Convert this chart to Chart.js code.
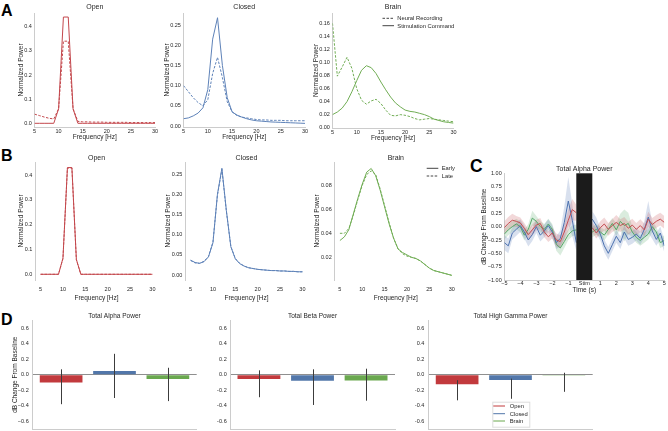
<!DOCTYPE html>
<html><head><meta charset="utf-8">
<script src="https://cdn.jsdelivr.net/npm/chart.js@4.4.1/dist/chart.umd.min.js"></script>
<style>
html,body{margin:0;padding:0;background:#fff;}
#wrap{position:relative;width:668px;height:431px;overflow:hidden;background:#fff;font-family:"Liberation Sans",Arial,sans-serif;}
#wrap canvas{position:absolute;}
.pl{position:absolute;font-weight:bold;line-height:1;color:#000;}
</style></head><body>
<div id="wrap">
<div class="pl" style="left:1px;top:3px;font-size:16px">A</div>
<div class="pl" style="left:1px;top:148px;font-size:16px">B</div>
<div class="pl" style="left:470px;top:158px;font-size:17.5px">C</div>
<div class="pl" style="left:1px;top:312px;font-size:16px">D</div>
</div>
<script>
// ---------------- DATA ----------------
const freq = [5,6,7,8,9,10,11,12,13,14,15,16,17,18,19,20,21,22,23,24,25,26,27,28,29,30];
const freqTicks = [5,10,15,20,25,30];

// Panel A: Neural Recording (dashed) vs Stimulation Command (solid)
const aOpenStim   = [0,0,0,0,0,0.06,0.44,0.44,0.06,0,0,0,0,0,0,0,0,0,0,0,0,0,0,0,0,0];
const aOpenRec    = [0.038,0.032,0.026,0.021,0.018,0.06,0.34,0.34,0.06,0.008,0.006,0.006,0.005,0.005,0.005,0.004,0.004,0.004,0.004,0.004,0.003,0.003,0.003,0.003,0.003,0.003];
const aClosedStim = [0.018,0.02,0.025,0.032,0.045,0.09,0.215,0.268,0.15,0.07,0.035,0.027,0.022,0.018,0.015,0.013,0.012,0.011,0.010,0.0095,0.009,0.0085,0.008,0.0075,0.007,0.0065];
const aClosedRec  = [0.10,0.085,0.07,0.058,0.05,0.065,0.13,0.17,0.12,0.06,0.035,0.026,0.022,0.02,0.018,0.016,0.015,0.015,0.014,0.014,0.014,0.013,0.013,0.013,0.013,0.013];
const aBrainStim  = [0.02,0.024,0.03,0.04,0.055,0.072,0.088,0.095,0.092,0.083,0.07,0.058,0.047,0.038,0.032,0.027,0.025,0.024,0.022,0.02,0.017,0.013,0.011,0.009,0.008,0.007];
const aBrainRec   = [0.16,0.079,0.093,0.108,0.091,0.06,0.042,0.036,0.041,0.0435,0.037,0.027,0.019,0.018,0.02,0.019,0.017,0.014,0.012,0.013,0.014,0.013,0.012,0.011,0.010,0.009];

// Panel B: Early (solid) vs Late (dashed)
const bOpenEarly   = [0,0,0,0,0,0.065,0.43,0.43,0.06,0,0,0,0,0,0,0,0,0,0,0,0,0,0,0,0,0];
const bOpenLate    = [0,0,0,0,0,0.063,0.428,0.428,0.058,0,0,0,0,0,0,0,0,0,0,0,0,0,0,0,0,0];
const bClosedEarly = [0.037,0.031,0.029,0.033,0.045,0.08,0.20,0.265,0.16,0.07,0.04,0.028,0.022,0.018,0.016,0.014,0.013,0.012,0.011,0.011,0.010,0.010,0.009,0.009,0.008,0.008];
const bClosedLate  = [0.036,0.030,0.029,0.034,0.046,0.082,0.198,0.262,0.158,0.071,0.041,0.029,0.022,0.018,0.016,0.014,0.013,0.012,0.011,0.011,0.010,0.010,0.009,0.009,0.008,0.008];
const bBrainEarly  = [0.034,0.037,0.043,0.056,0.069,0.081,0.091,0.094,0.088,0.076,0.062,0.048,0.036,0.027,0.024,0.022,0.020,0.019,0.017,0.014,0.011,0.009,0.008,0.007,0.006,0.005];
const bBrainLate   = [0.040,0.040,0.044,0.055,0.068,0.080,0.089,0.092,0.089,0.077,0.063,0.049,0.036,0.027,0.023,0.021,0.020,0.019,0.017,0.014,0.011,0.009,0.008,0.007,0.006,0.005];

// Panel C: time course of total alpha power (dB change), mean and band half-width
const tPre  = [-5,-4.75,-4.5,-4.25,-4,-3.75,-3.5,-3.25,-3,-2.75,-2.5,-2.25,-2,-1.75,-1.5,-1.25,-1,-0.75,-0.5];
const tPost = [0.5,0.75,1,1.25,1.5,1.75,2,2.25,2.5,2.75,3,3.25,3.5,3.75,4,4.25,4.5,4.75,5];
const cRedPre    = [-0.02,0.06,0.12,0.10,0.07,-0.03,-0.15,-0.06,0.03,0.06,-0.10,-0.19,-0.12,-0.25,-0.28,-0.10,0.12,0.32,0.26];
const cRedPost   = [-0.02,-0.12,-0.02,0.05,-0.05,0.02,0.08,0.02,0.06,-0.03,0.03,-0.05,0.02,-0.06,0.14,0.04,0.10,0.14,0.08];
const cBluePre   = [-0.30,-0.36,-0.12,-0.05,0.02,-0.10,-0.25,-0.15,0.0,-0.16,-0.08,0.02,-0.10,-0.30,-0.22,0.08,0.48,0.12,-0.30];
const cBluePost  = [0.14,0.02,-0.14,-0.36,-0.50,-0.34,-0.18,-0.30,-0.10,-0.24,-0.20,-0.14,-0.22,-0.05,0.18,-0.08,-0.24,-0.12,-0.36];
const cGreenPre  = [-0.14,-0.06,0.0,0.05,0.0,-0.16,-0.05,0.16,0.10,0.0,-0.05,0.05,-0.05,-0.33,-0.40,-0.28,-0.15,-0.08,-0.06];
const cGreenPost = [-0.10,-0.05,-0.10,-0.16,-0.05,0.06,-0.06,0.10,0.02,0.06,-0.10,-0.20,-0.26,-0.20,-0.14,0.00,-0.10,-0.30,-0.26];
const cRedHWPre    = [0.12,0.12,0.12,0.10,0.10,0.10,0.10,0.10,0.10,0.10,0.10,0.10,0.10,0.12,0.12,0.15,0.20,0.20,0.15];
const cRedHWPost   = [0.10,0.10,0.12,0.12,0.12,0.12,0.14,0.12,0.12,0.12,0.12,0.12,0.12,0.12,0.14,0.12,0.12,0.12,0.12];
const cBlueHWPre   = [0.14,0.14,0.12,0.12,0.12,0.12,0.12,0.12,0.12,0.12,0.12,0.12,0.12,0.12,0.15,0.30,0.45,0.30,0.15];
const cBlueHWPost  = [0.15,0.15,0.12,0.12,0.12,0.12,0.12,0.12,0.12,0.12,0.12,0.12,0.12,0.15,0.30,0.15,0.12,0.12,0.12];
const cGreenHWPre  = [0.10,0.10,0.10,0.10,0.10,0.10,0.10,0.14,0.10,0.10,0.10,0.10,0.10,0.12,0.14,0.12,0.10,0.10,0.10];
const cGreenHWPost = [0.10,0.10,0.10,0.10,0.10,0.10,0.12,0.14,0.30,0.20,0.10,0.10,0.10,0.10,0.10,0.10,0.10,0.10,0.10];
const cTimeTicks = [-5,-4,-3,-2,-1,0,1,2,3,4,5];
const cYTicks = [-1,-0.75,-0.5,-0.25,0,0.25,0.5,0.75,1];

// Panel D: mean dB change with error bars (Open, Closed, Brain)
const dGroups = ['Open','Closed','Brain'];
const dTitles = ['Total Alpha Power','Total Beta Power','Total High Gamma Power'];
const dAlpha   = [-0.10, 0.048, -0.055];
const dAlphaLo = [-0.38, -0.30, -0.34];
const dAlphaHi = [0.07, 0.27, 0.09];
const dBeta    = [-0.055, -0.077, -0.075];
const dBetaLo  = [-0.29, -0.39, -0.335];
const dBetaHi  = [0.057, 0.07, 0.078];
const dGamma   = [-0.124, -0.069, -0.01];
const dGammaLo = [-0.33, -0.31, -0.22];
const dGammaHi = [-0.07, -0.05, 0.026];
const dYTicks = [-0.6,-0.4,-0.2,0,0.2,0.4,0.6];

// ---------------- STYLE ----------------
const FONT = '"Liberation Sans", Arial, sans-serif';
const TXT = '#262626', SPINE = '#cccccc';
const RED = '#c3474c', BLUE = '#5e82b8', GREEN = '#71ad55';
const C_RED = '#c44e52', C_BLUE = '#4c72b0', C_GREEN = '#55a868';
const BAR_RED = '#c23a3d', BAR_BLUE = '#5277aa', BAR_GREEN = '#6aa84f';
Chart.defaults.font.family = FONT;
Chart.defaults.color = TXT;
const wrap = document.getElementById('wrap');

const fmt = d => v => { if (Math.abs(v) < 1e-9) v = 0; return v.toFixed(d).replace('-', '\u2212'); };
const fixedTicks = list => axis => { axis.ticks = list.map(v => ({value: v})); };
const fitW = w => s => { s.width = w; s.paddingTop = 0; s.paddingBottom = 0; };
const fitH = h => s => { s.height = h; s.paddingLeft = 0; s.paddingRight = 0; };

// decoration plugin: titles, legends, stim block, error bars
const deco = {
  id: 'deco',
  afterDatasetsDraw(chart, args, o) {
    const ctx = chart.ctx, ca = chart.chartArea;
    ctx.save();
    if (o.stim) {
      const xs = chart.scales.x;
      const x1 = xs.getPixelForValue(o.stim[0]), x2 = xs.getPixelForValue(o.stim[1]);
      ctx.fillStyle = '#1b1b1b';
      ctx.fillRect(x1, ca.top, x2 - x1, ca.bottom - ca.top);
    }
    if (o.errLo) {
      const xs = chart.scales.x, ys = chart.scales.y;
      ctx.strokeStyle = '#3c3c3c'; ctx.lineWidth = 1;
      o.errLo.forEach((lo, i) => {
        const x = Math.round(xs.getPixelForValue(i)) + 0.5;
        ctx.beginPath();
        ctx.moveTo(x, ys.getPixelForValue(o.errHi[i]));
        ctx.lineTo(x, ys.getPixelForValue(lo));
        ctx.stroke();
      });
    }
    ctx.restore();
  },
  afterDraw(chart, args, o) {
    const ctx = chart.ctx, ca = chart.chartArea;
    ctx.save();
    if (o.title) {
      ctx.font = (o.titleSize || 7) + 'px ' + FONT;
      ctx.fillStyle = TXT; ctx.textAlign = 'center'; ctx.textBaseline = 'middle';
      ctx.fillText(o.title, (ca.left + ca.right) / 2, ca.top - o.titleDy);
    }
    if (o.legend) {
      const L = o.legend, ox = o.ox, oy = o.oy;
      if (L.box) {
        ctx.fillStyle = '#fff'; ctx.strokeStyle = '#dddddd'; ctx.lineWidth = 1;
        ctx.fillRect(L.box[0] - ox, L.box[1] - oy, L.box[2], L.box[3]);
        ctx.strokeRect(L.box[0] - ox + 0.5, L.box[1] - oy + 0.5, L.box[2], L.box[3]);
      }
      ctx.font = (L.size || 5.8) + 'px ' + FONT;
      ctx.textAlign = 'left'; ctx.textBaseline = 'middle';
      L.items.forEach(it => {
        ctx.strokeStyle = it.color; ctx.lineWidth = 1;
        ctx.setLineDash(it.dash ? [2.5, 1.5] : []);
        ctx.beginPath();
        ctx.moveTo(L.x1 - ox, it.y - oy); ctx.lineTo(L.x2 - ox, it.y - oy);
        ctx.stroke();
        ctx.setLineDash([]);
        ctx.fillStyle = TXT;
        ctx.fillText(it.label, L.tx - ox, it.y - oy + 0.3);
      });
    }
    ctx.restore();
  }
};

function makeCanvas(L, T, R, B, yw, xh, pt, pr, pb) {
  const left = Math.round(L - yw), top = Math.round(T - pt);
  const w = Math.round(R + pr) - left, h = Math.round(B + xh + pb) - top;
  const c = document.createElement('canvas');
  c.width = w; c.height = h;
  c.style.left = left + 'px'; c.style.top = top + 'px';
  c.style.width = w + 'px'; c.style.height = h + 'px';
  wrap.appendChild(c);
  return { c, left, top, yw: L - left,
    padding: { left: 0, top: T - top, right: (left + w) - R, bottom: (top + h) - B - xh } };
}

const pts = (xs, ys) => xs.map((x, i) => ({ x, y: ys[i] }));

// ---------------- FREQUENCY PANELS (A, B) ----------------
function freqPanel(p) {
  const m = makeCanvas(p.L, p.T, p.R, p.B, p.yw, p.xh, p.pt, 7, 1);
  new Chart(m.c, {
    type: 'line',
    data: { datasets: p.series.map(s => ({
      data: pts(freq, s.d), borderColor: s.c, borderWidth: 1,
      borderDash: s.dash ? [2.5, 1.5] : [], pointRadius: 0, tension: 0, fill: false
    })) },
    options: {
      responsive: false, maintainAspectRatio: false, animation: false, devicePixelRatio: 1,
      layout: { padding: m.padding },
      plugins: { legend: { display: false }, tooltip: { enabled: false },
        deco: { title: p.title, titleDy: p.titleDy, titleSize: 7, legend: p.legend, ox: m.left, oy: m.top } },
      scales: {
        x: { type: 'linear', min: p.xr[0], max: p.xr[1],
          afterBuildTicks: fixedTicks(freqTicks), afterFit: fitH(p.xh),
          grid: { display: false, drawTicks: false },
          border: { display: p.xline, color: SPINE, width: 1 },
          ticks: { font: { size: 5.5 }, padding: p.xpad, maxRotation: 0, autoSkip: false, callback: v => String(v) },
          title: { display: true, text: 'Frequency [Hz]', font: { size: 6.5 }, padding: 0 } },
        y: { type: 'linear', min: p.yr[0], max: p.yr[1],
          afterBuildTicks: fixedTicks(p.yt), afterFit: fitW(m.yw),
          grid: { display: false, drawTicks: false },
          border: { display: true, color: SPINE, width: 1 },
          ticks: { font: { size: 5.5 }, padding: 2.6, autoSkip: false, callback: fmt(p.dec) },
          title: { display: true, text: 'Normalized Power', font: { size: 6.5 }, padding: 0 } }
      }
    },
    plugins: [deco]
  });
}

const legA = { x1: 382.5, x2: 394, tx: 397.3, size: 5.8, items: [
  { label: 'Neural Recording', color: '#444', dash: true, y: 18.3 },
  { label: 'Stimulation Command', color: '#444', dash: false, y: 25.7 } ] };
const legB = { x1: 426.7, x2: 438.3, tx: 441.7, size: 5.8, items: [
  { label: 'Early', color: '#444', dash: false, y: 168.3 },
  { label: 'Late', color: '#444', dash: true, y: 176 } ] };

const aRow = { T: 13, B: 127, xh: 14.4, pt: 12, titleDy: 5.5, xr: [5, 30], xline: true, xpad: 0.8 };
freqPanel(Object.assign({}, aRow, { L: 34.5, R: 155, yw: 18, yr: [-0.0153, 0.4567], yt: [0, 0.1, 0.2, 0.3, 0.4], dec: 1, title: 'Open',
  series: [{ d: aOpenRec, c: RED, dash: true }, { d: aOpenStim, c: RED }] }));
freqPanel(Object.assign({}, aRow, { L: 183.5, R: 305, yw: 21, yr: [-0.0025, 0.2797], yt: [0, 0.05, 0.1, 0.15, 0.2, 0.25], dec: 2, title: 'Closed',
  series: [{ d: aClosedRec, c: BLUE, dash: true }, { d: aClosedStim, c: BLUE }] }));
freqPanel(Object.assign({}, aRow, { L: 332.5, R: 453.5, B: 128, yw: 20.5, yr: [-0.0005, 0.1758], yt: [0, 0.02, 0.04, 0.06, 0.08, 0.1, 0.12, 0.14, 0.16], dec: 2, title: 'Brain', legend: legA,
  series: [{ d: aBrainRec, c: GREEN, dash: true }, { d: aBrainStim, c: GREEN }] }));

const bRow = { T: 162, B: 280, xh: 21.9, pt: 10, titleDy: 3.7, xr: [3.75, 31.25], xline: false, xpad: 6.5 };
freqPanel(Object.assign({}, bRow, { L: 35, R: 158, yw: 18, yr: [-0.023, 0.4524], yt: [0, 0.1, 0.2, 0.3, 0.4], dec: 1, title: 'Open',
  series: [{ d: bOpenLate, c: RED, dash: true }, { d: bOpenEarly, c: RED }] }));
freqPanel(Object.assign({}, bRow, { L: 185, R: 308, yw: 21, yr: [-0.0124, 0.2805], yt: [0, 0.05, 0.1, 0.15, 0.2, 0.25], dec: 2, title: 'Closed',
  series: [{ d: bClosedLate, c: BLUE, dash: true }, { d: bClosedEarly, c: BLUE }] }));
freqPanel(Object.assign({}, bRow, { L: 334.3, R: 457.3, yw: 21.2, yr: [0.0011, 0.0994], yt: [0.02, 0.04, 0.06, 0.08], dec: 2, title: 'Brain', legend: legB,
  series: [{ d: bBrainLate, c: GREEN, dash: true }, { d: bBrainEarly, c: GREEN }] }));

// ---------------- PANEL C ----------------
(function () {
  const L = 504.3, R = 664.3, T = 173.3, B = 280, xh = 14.6;
  const m = makeCanvas(L, T, R, B, 24.2, xh, 9, 4, 1);
  const tAll = tPre.concat([0], tPost);
  const join = (a, b) => a.concat([null], b);
  const mk = (mean, hw, col, band) => {
    const up = mean.map((v, i) => v === null ? null : v + hw[i]);
    const lo = mean.map((v, i) => v === null ? null : v - hw[i]);
    return [
      { data: pts(tAll, up), borderWidth: 0, pointRadius: 0, fill: '+1', backgroundColor: band, order: 2, spanGaps: false },
      { data: pts(tAll, lo), borderWidth: 0, pointRadius: 0, fill: false, order: 2, spanGaps: false },
      { data: pts(tAll, mean), borderColor: col, borderWidth: 1, pointRadius: 0, fill: false, order: 1, spanGaps: false }
    ];
  };
  const ds = [].concat(
    mk(join(cRedPre, cRedPost), join(cRedHWPre, cRedHWPost), C_RED, 'rgba(196,78,82,0.22)'),
    mk(join(cBluePre, cBluePost), join(cBlueHWPre, cBlueHWPost), C_BLUE, 'rgba(76,114,176,0.22)'),
    mk(join(cGreenPre, cGreenPost), join(cGreenHWPre, cGreenHWPost), C_GREEN, 'rgba(85,168,104,0.22)')
  );
  new Chart(m.c, {
    type: 'line',
    data: { datasets: ds },
    options: {
      responsive: false, maintainAspectRatio: false, animation: false, devicePixelRatio: 1,
      layout: { padding: m.padding },
      plugins: { legend: { display: false }, tooltip: { enabled: false },
        filler: { propagate: false },
        deco: { title: 'Total Alpha Power', titleDy: 4.3, titleSize: 7, stim: [-0.5, 0.5], ox: m.left, oy: m.top } },
      scales: {
        x: { type: 'linear', min: -5, max: 5, afterBuildTicks: fixedTicks(cTimeTicks), afterFit: fitH(xh),
          grid: { display: false, drawTicks: false }, border: { display: true, color: SPINE },
          ticks: { font: { size: 5.5 }, padding: 0.3, autoSkip: false, maxRotation: 0,
            callback: v => v === 0 ? 'Stim' : String(v).replace('-', '\u2212') },
          title: { display: true, text: 'Time (s)', font: { size: 6.5 }, padding: 0 } },
        y: { type: 'linear', min: -1, max: 1, afterBuildTicks: fixedTicks(cYTicks), afterFit: fitW(m.yw),
          grid: { display: false, drawTicks: false }, border: { display: true, color: SPINE },
          ticks: { font: { size: 5.5 }, padding: 2.6, autoSkip: false, callback: fmt(2) },
          title: { display: true, text: 'dB Change From Baseline', font: { size: 6.5 }, padding: 0 } }
      }
    },
    plugins: [deco]
  });
})();

// ---------------- PANEL D ----------------
function barPanel(p) {
  const T = 320.5, B = 429;
  const m = makeCanvas(p.L, T, p.R, B, p.yw, 1, 9, 2, 1);
  new Chart(m.c, {
    type: 'bar',
    data: { datasets: [{
      data: p.vals.map((v, i) => ({ x: i, y: v })),
      backgroundColor: [BAR_RED, BAR_BLUE, BAR_GREEN], borderWidth: 0,
      barPercentage: 0.8, categoryPercentage: 1
    }] },
    options: {
      responsive: false, maintainAspectRatio: false, animation: false, devicePixelRatio: 1,
      layout: { padding: m.padding },
      plugins: { legend: { display: false }, tooltip: { enabled: false },
        deco: { title: p.title, titleDy: 3.8, titleSize: 6.5, errLo: p.lo, errHi: p.hi, legend: p.legend, ox: m.left, oy: m.top } },
      scales: {
        x: { type: 'linear', min: -0.54, max: 2.54, offset: false, afterFit: fitH(1),
          grid: { display: false, drawTicks: false }, border: { display: true, color: SPINE },
          ticks: { display: false } },
        y: { type: 'linear', min: -0.7, max: 0.7, afterBuildTicks: fixedTicks(dYTicks), afterFit: fitW(m.yw),
          grid: { display: true, drawTicks: false, lineWidth: 1,
            color: c => (c.tick && Math.abs(c.tick.value) < 1e-9) ? '#8f8f8f' : 'rgba(0,0,0,0)' },
          border: { display: true, color: SPINE },
          ticks: { font: { size: 5.5 }, padding: p.tpad, autoSkip: false, callback: fmt(1) },
          title: { display: p.ytitle, text: 'dB Change From Baseline', font: { size: 6.5 }, padding: 0 } }
      }
    },
    plugins: [deco]
  });
}
const legD = { x1: 493.3, x2: 505, tx: 509.7, size: 5.8, box: [492.3, 401.7, 37, 25], items: [
  { label: dGroups[0], color: BAR_RED, y: 406 },
  { label: dGroups[1], color: BAR_BLUE, y: 413.7 },
  { label: dGroups[2], color: BAR_GREEN, y: 421 } ] };
barPanel({ L: 32.3, R: 196.7, yw: 21.5, tpad: 3.6, ytitle: true, title: dTitles[0], vals: dAlpha, lo: dAlphaLo, hi: dAlphaHi });
barPanel({ L: 230, R: 395, yw: 13, tpad: 3.3, ytitle: false, title: dTitles[1], vals: dBeta, lo: dBetaLo, hi: dBetaHi });
barPanel({ L: 428.3, R: 592.7, yw: 13, tpad: 4, ytitle: false, title: dTitles[2], vals: dGamma, lo: dGammaLo, hi: dGammaHi, legend: legD });
</script>
</body></html>
